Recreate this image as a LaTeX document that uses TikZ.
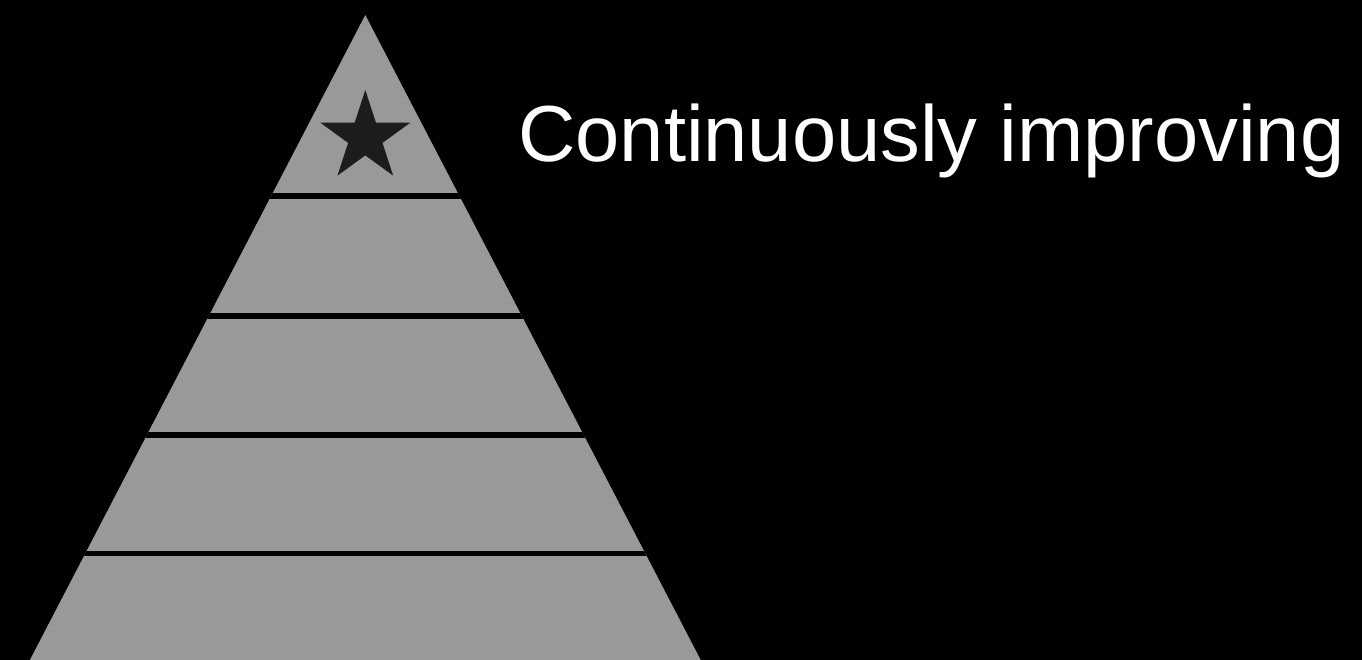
\documentclass[tikz,border=0pt]{standalone}
\usepackage{fontspec}
\setmainfont{Liberation Sans}
\usetikzlibrary{shapes.geometric}
\definecolor{pyrgray}{HTML}{999999}
\definecolor{stardark}{HTML}{1C1C1C}
\tikzset{
  layer/.style={draw=black, line width=5.5pt},
  title/.style={text=white, font=\fontsize{79.5}{90}\selectfont, inner sep=0pt, anchor=base west},
  starmark/.style={star, star points=5, star point ratio=2.618, minimum size=94.6pt, inner sep=0pt, fill=stardark, draw=none}
}
\begin{document}
\begin{tikzpicture}[x=1pt,y=-1pt]
\fill[black] (0,0) rectangle (1362,660);
\useasboundingbox (0,0) rectangle (1362,660);
\coordinate (apex) at (365.3,15);
\coordinate (bl) at (29.9,660);
\coordinate (br) at (700.7,660);
\fill[pyrgray] (apex) -- (bl) -- (br) -- cycle;
\begin{scope}
\clip (apex) -- (bl) -- (br) -- cycle;
\foreach \y in {196,315.8,435,553.3}{
  \draw[layer] (0,\y) -- (800,\y);
}
\end{scope}
\node[starmark] (st) at (365.3,137.3) {};
\node[title] (t) at (518,162) {Continuously improving};
\end{tikzpicture}
\end{document}
